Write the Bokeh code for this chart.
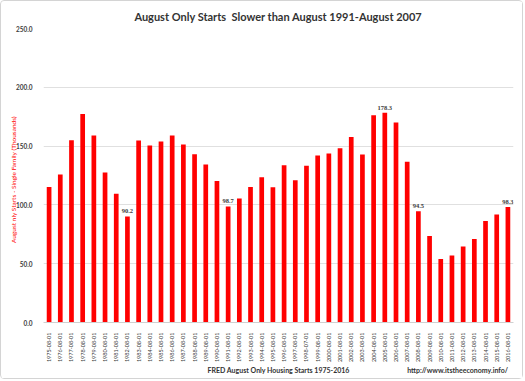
import math
from bokeh.plotting import figure
from bokeh.models import ColumnDataSource, Title, NumeralTickFormatter, FixedTicker
from bokeh.embed import file_html
from bokeh.resources import INLINE

dates = ["1975-08-01", "1976-08-01", "1977-08-01", "1978-08-01", "1979-08-01", "1980-08-01",
         "1981-08-01", "1982-08-01", "1983-08-01", "1984-08-01", "1985-08-01", "1986-08-01",
         "1987-08-01", "1988-08-01", "1989-08-01", "1990-08-01", "1991-08-01", "1992-08-01",
         "1993-08-01", "1994-08-01", "1995-08-01", "1996-08-01", "1997-08-01", "1998-07-01",
         "1999-08-01", "2000-08-01", "2001-08-01", "2002-08-01", "2003-08-01", "2004-08-01",
         "2005-08-01", "2006-08-01", "2007-08-01", "2008-08-01", "2009-08-01", "2010-08-01",
         "2011-08-01", "2012-08-01", "2013-08-01", "2014-08-01", "2015-08-01", "2016-08-01"]
starts = [115.3, 125.8, 155.0, 177.4, 159.0, 127.5,
          109.4, 90.2, 154.8, 150.5, 153.9, 159.0,
          151.4, 143.1, 134.3, 120.4, 98.7, 105.4,
          115.3, 123.6, 115.1, 133.8, 121.0, 133.2,
          142.0, 143.7, 148.2, 157.8, 142.9, 176.3,
          178.3, 170.1, 136.6, 94.5, 73.6, 54.1,
          57.0, 64.6, 71.1, 86.4, 91.8, 98.3]
labelled = ["1982-08-01", "1991-08-01", "2005-08-01", "2008-08-01", "2016-08-01"]
y_ticks = [0, 50, 100, 150, 200, 250]

FONT = "Lato"
DARK = "#333333"

p = figure(x_range=dates, y_range=(0, 250), width=523, height=379,
           output_backend="svg", toolbar_location=None,
           min_border_left=42, min_border_right=11, min_border_top=27, min_border_bottom=58)
p.styles = {"border": "1px solid #d4d4d4", "border-radius": "4px"}
p.outline_line_color = None
p.x_range.range_padding = 0

p.title.text = "August Only Starts\u00a0 Slower than August 1991-August 2007"
p.title.align = "center"
p.title.offset = -17
p.title.text_font = FONT
p.title.text_font_size = "11px"
p.title.text_font_style = "bold"
p.title.text_color = DARK
p.title.standoff = 11

src = ColumnDataSource(dict(x=dates, y=starts))
p.vbar(x="x", top="y", width=0.42, source=src, fill_color="#ff0000", line_color=None)

lab_src = ColumnDataSource(dict(x=[d for d in labelled],
                                y=[starts[dates.index(d)] for d in labelled],
                                t=["%.1f" % starts[dates.index(d)] for d in labelled]))
p.text(x="x", y="y", text="t", source=lab_src, text_align="center", text_baseline="bottom",
       y_offset=-3, text_font_size="6.5px", text_font_style="bold", text_color="#404040",
       text_font=FONT)

p.xgrid.grid_line_color = None
p.ygrid.grid_line_color = "#e0e0e0"
p.ygrid.ticker = FixedTicker(ticks=y_ticks)

p.yaxis.ticker = FixedTicker(ticks=y_ticks)
p.yaxis.formatter = NumeralTickFormatter(format="0.0")
p.yaxis.axis_line_color = None
p.yaxis.major_tick_line_color = None
p.yaxis.minor_tick_line_color = None
p.yaxis.major_label_text_font = FONT
p.yaxis.major_label_text_font_size = "6.5px"
p.yaxis.major_label_text_font_style = "bold"
p.yaxis.major_label_text_color = "#404040"
p.yaxis.major_label_standoff = 5
p.yaxis.axis_label = "August nly Starts - Single Family (Thousands)\u2003\u2002"
p.yaxis.axis_label_text_font = FONT
p.yaxis.axis_label_text_font_size = "6.5px"
p.yaxis.axis_label_text_font_style = "normal"
p.yaxis.axis_label_text_color = "#ff0000"
p.yaxis.axis_label_standoff = -4

p.xaxis.axis_line_color = "#d0d0d0"
p.xaxis.major_tick_line_color = None
p.xaxis.minor_tick_line_color = None
p.xaxis.major_label_orientation = math.pi / 2
p.xaxis.major_label_text_font = FONT
p.xaxis.major_label_text_font_size = "5.5px"
p.xaxis.major_label_text_color = "#404040"
p.xaxis.major_label_standoff = 4

footer = Title(text="FRED August Only Housing Starts 1975-2016" + "\u2003" * 11
                    + "http://www.itstheeconomy.info/",
               align="left", offset=164, vertical_align="top",
               text_font=FONT, text_font_size="7px", text_font_style="bold",
               text_color=DARK, standoff=0, text_line_height=1.0)
p.add_layout(footer, "below")

open("out.html", "w").write(file_html(p, INLINE))
